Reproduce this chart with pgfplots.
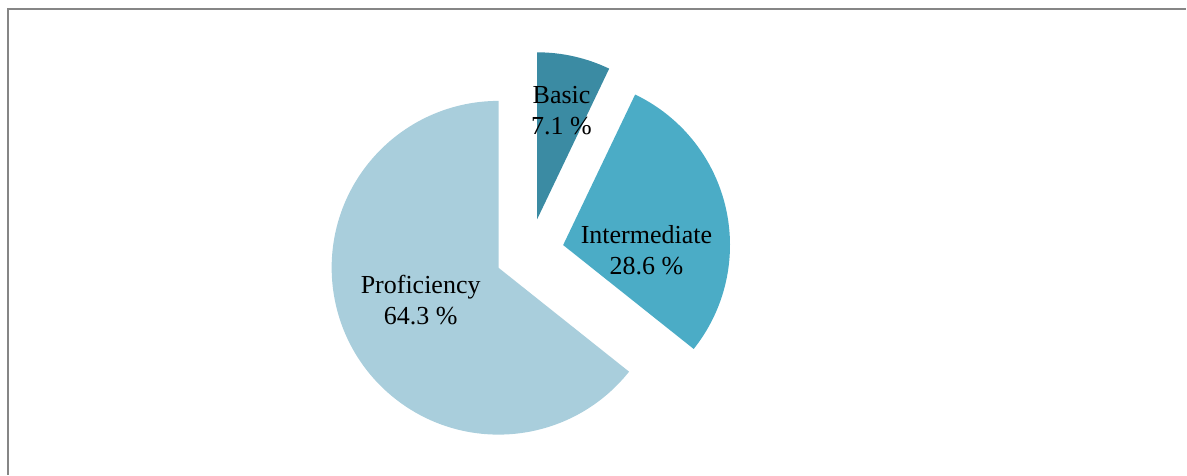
\documentclass[border=0pt]{standalone}
\usepackage{pgfplots}
\pgfplotsset{compat=1.18}
\usepackage{fontspec}
\setmainfont{Liberation Serif}

\definecolor{cbasic}{HTML}{3B8BA3}
\definecolor{cinter}{HTML}{4BACC6}
\definecolor{cprof}{HTML}{A9CEDC}
\definecolor{frame}{HTML}{868686}

% shares in percent
\def\vBasic{7.1}
\def\vInter{28.6}
\def\vProf{64.3}

% pie geometry (1 unit = 0.5pt)
\def\rad{83.5pt}
\def\expl{17.25pt}

% slice: start angle, share, colour  (expanded now, axis draws later)
\newcommand\slice[3]{%
  \pgfmathsetmacro\sa{#1}%
  \pgfmathsetmacro\ea{#1-3.6*#2}%
  \pgfmathsetmacro\ma{(\sa+\ea)/2}%
  \edef\temp{\noexpand\fill[#3] (axis cs:530,222) ++(\ma:\expl) -- ++(\sa:\rad)
    arc[start angle=\sa, end angle=\ea, radius=\rad] -- cycle;}%
  \temp
}

\begin{document}
\begin{tikzpicture}
\begin{axis}[
  scale only axis,
  width=593.5pt, height=237.5pt,
  xmin=0, xmax=1187, ymin=0, ymax=475,
  hide axis, clip=false,
]
\path (axis cs:0,0) rectangle (axis cs:1187,475);
\draw[frame, line width=1pt] (axis cs:8,0) -- (axis cs:8,465.5) -- (axis cs:1187,465.5);

\pgfmathsetmacro\aA{90}
\pgfmathsetmacro\aB{90-3.6*\vBasic}
\pgfmathsetmacro\aC{\aB-3.6*\vInter}
\slice{\aA}{\vBasic}{cbasic}
\slice{\aB}{\vInter}{cinter}
\slice{\aC}{\vProf}{cprof}

\begin{scope}[every node/.style={align=center, font=\fontsize{13}{15.5}\selectfont}]
\node at (axis cs:562,364) {Basic\\7.1 \%};
\node at (axis cs:647,225) {Intermediate\\28.6 \%};
\node at (axis cs:421,175) {Proficiency\\64.3 \%};
\end{scope}
\end{axis}
\end{tikzpicture}
\end{document}
